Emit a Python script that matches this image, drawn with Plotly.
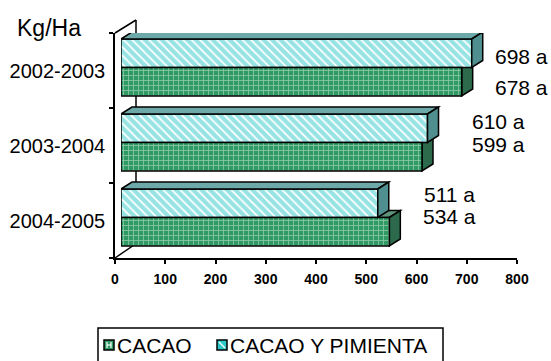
import plotly.graph_objects as go

# ---- data -------------------------------------------------------------
PERIODS = ["2002-2003", "2003-2004", "2004-2005"]
CACAO = [678, 599, 534]
CACAO_PIMIENTA = [698, 610, 511]
CACAO_LABELS = ["678 a", "599 a", "534 a"]
CACAO_PIMIENTA_LABELS = ["698 a", "610 a", "511 a"]
SERIES_NAMES = ["CACAO", "CACAO Y PIMIENTA"]
X_TICKS = [0, 100, 200, 300, 400, 500, 600, 700, 800]
UNIT_LABEL = "Kg/Ha"

# ---- layout constants (pixels) ----------------------------------------
W, H = 551, 361
ML, MR, MT, MB = 100, 10, 20, 103
PW, PH = W - ML - MR, H - MT - MB

AXIS_X0, AXIS_X1 = 115, 517          # visible value axis
BAR_X0 = 121                         # bar fronts sit a little forward
BAR_X1 = BAR_X0 + (AXIS_X1 - AXIS_X0)
Y_TOP, Y_BOT = 33, 258               # front plane of the category axis
X_MAX = 800
DEPTH_PX = (11, 7)                   # bar depth: right / up
WALL_PX = (21, 13)                   # side wall depth

FONT = "Liberation Sans, Arial, sans-serif"
GREEN, GREEN_TOP, GREEN_SIDE = "#2f9a63", "#5f947c", "#2c6a4b"
CYAN, CYAN_TOP, CYAN_SIDE = "#2fc8c8", "#6ea9a9", "#4f8f8f"


def pxx(p):
    return (p - ML) / PW


def pxy(p):
    return (H - MB - p) / PH


n = len(PERIODS)
ypos = list(range(n))
band_px = (Y_BOT - Y_TOP) / n
DX = DEPTH_PX[0] * X_MAX / (BAR_X1 - BAR_X0)
DY = -DEPTH_PX[1] / band_px
BAR_W = 0.38
LIFT = 0.04

fig = go.Figure()

series = [
    # name, values, offset, colour set, pattern
    (SERIES_NAMES[1], CACAO_PIMIENTA, -LIFT - BAR_W,
     (CYAN, CYAN_TOP, CYAN_SIDE),
     dict(shape="\\", fgcolor=CYAN, bgcolor="white", size=6, solidity=0.7)),
    (SERIES_NAMES[0], CACAO, -LIFT,
     (GREEN, GREEN_TOP, GREEN_SIDE),
     dict(shape="+", fgcolor="#e8f4ec", bgcolor=GREEN, size=5, solidity=0.3)),
]

shapes = []

# side wall of the 3D frame
wx, wy = WALL_PX
for (x0, y0, x1, y1) in [
    (AXIS_X0, Y_TOP, AXIS_X0 + wx, Y_TOP - wy),
    (AXIS_X0 + wx, Y_TOP - wy, AXIS_X0 + wx, Y_BOT - wy),
    (AXIS_X0, Y_BOT, AXIS_X0 + wx - 2, Y_BOT - wy),
]:
    shapes.append(dict(type="line", xref="paper", yref="paper",
                       x0=pxx(x0), y0=pxy(y0), x1=pxx(x1), y1=pxy(y1),
                       line=dict(color="black", width=1.5), layer="below"))

face_shapes_below, face_shapes_above = [], []
for si, (name, vals, off, cols, pat) in enumerate(series):
    fig.add_trace(go.Bar(
        y=ypos, x=vals, orientation="h", name=name,
        offset=off, width=BAR_W, xaxis="x", yaxis="y",
        marker=dict(color=cols[0], pattern=pat,
                    line=dict(color="black", width=1.5)),
        showlegend=False, hoverinfo="x",
    ))
    for k, v in zip(ypos, vals):
        yt, yb = k + off, k + off + BAR_W
        top = (f"M 0,{yt} L {v},{yt} L {v + DX},{yt + DY} "
               f"L {DX},{yt + DY} Z")
        side = (f"M {v},{yt} L {v + DX},{yt + DY} L {v + DX},{yb + DY} "
                f"L {v},{yb} Z")
        layer = "above" if si == 0 else "below"
        target = face_shapes_above if si == 0 else face_shapes_below
        for path, col in [(top, cols[1]), (side, cols[2])]:
            target.append(dict(type="path", xref="x", yref="y", path=path,
                               fillcolor=col, layer=layer,
                               line=dict(color="black", width=1.5)))

shapes += face_shapes_below + face_shapes_above

# value labels
label_shift = {  # (xshift, yshift) in px
    ("CACAO Y PIMIENTA", 0): (21, -3), ("CACAO", 0): (31, -6),
    ("CACAO Y PIMIENTA", 1): (42, 7), ("CACAO", 1): (48, 12),
    ("CACAO Y PIMIENTA", 2): (44, 9), ("CACAO", 2): (32, 15),
}
annotations = []
for name, vals, labels, off in [
    (SERIES_NAMES[1], CACAO_PIMIENTA, CACAO_PIMIENTA_LABELS, -LIFT - BAR_W),
    (SERIES_NAMES[0], CACAO, CACAO_LABELS, -LIFT),
]:
    for k, (v, t) in enumerate(zip(vals, labels)):
        xs, ys = label_shift[(name, k)]
        annotations.append(dict(
            x=v, y=k + off + BAR_W / 2, xref="x", yref="y", text=t,
            showarrow=False, xanchor="left", yanchor="middle",
            xshift=xs, yshift=ys, font=dict(family=FONT, size=21, color="black")))

annotations.append(dict(
    x=pxx(15), y=pxy(28), xref="paper", yref="paper", text=UNIT_LABEL,
    showarrow=False, xanchor="left", yanchor="middle",
    font=dict(family=FONT, size=23, color="black")))

# legend box drawn by hand
LEG_X0, LEG_X1, LEG_Y0, LEG_Y1 = 98, 443, 328, 364
shapes.append(dict(type="rect", xref="paper", yref="paper",
                   x0=pxx(LEG_X0), x1=pxx(LEG_X1), y0=pxy(LEG_Y0), y1=pxy(LEG_Y1),
                   line=dict(color="black", width=1.5), fillcolor="white",
                   layer="above"))
leg_items = [
    (SERIES_NAMES[0], 104, GREEN, "grid"),
    (SERIES_NAMES[1], 217, CYAN, "diag"),
]
sq = 10
leg_cy = 345
for name, lx, col, kind in leg_items:
    x0, x1 = lx, lx + sq
    y0, y1 = leg_cy - sq / 2, leg_cy + sq / 2
    shapes.append(dict(type="rect", xref="paper", yref="paper",
                       x0=pxx(x0), x1=pxx(x1), y0=pxy(y0), y1=pxy(y1),
                       fillcolor=col, line=dict(color="black", width=1.5),
                       layer="above"))
    if kind == "grid":
        segs = [(x0 + 3, y0 + 2, x0 + 3, y1 - 2), (x1 - 3, y0 + 2, x1 - 3, y1 - 2),
                (x0 + 3, leg_cy, x1 - 3, leg_cy)]
    else:
        segs = [(x0 + 2, y0 + 2, x1 - 2, y1 - 2)]
    for (a, b, c, d) in segs:
        shapes.append(dict(type="line", xref="paper", yref="paper",
                           x0=pxx(a), y0=pxy(b), x1=pxx(c), y1=pxy(d),
                           line=dict(color="white", width=1.2), layer="above"))
    annotations.append(dict(
        x=pxx(x1 + 1), y=pxy(leg_cy), xref="paper", yref="paper", text=name,
        showarrow=False, xanchor="left", yanchor="middle",
        font=dict(family=FONT, size=21, color="black")))

fig.update_layout(
    width=W, height=H, autosize=False,
    margin=dict(l=ML, r=MR, t=MT, b=MB, pad=0, autoexpand=False),
    paper_bgcolor="white", plot_bgcolor="rgba(0,0,0,0)",
    showlegend=False, barmode="overlay",
    font=dict(family=FONT, color="black"),
    xaxis=dict(domain=[pxx(BAR_X0), pxx(BAR_X1)], range=[0, X_MAX],
               visible=False, anchor="y", fixedrange=True, automargin=False),
    xaxis2=dict(domain=[pxx(AXIS_X0), pxx(AXIS_X1)], range=[0, X_MAX],
                anchor="y", tickmode="array", tickvals=X_TICKS,
                ticks="outside", ticklen=4, tickwidth=1.5, tickcolor="black",
                showline=True, linecolor="black", linewidth=1.5,
                showgrid=False, zeroline=False, automargin=False,
                ticklabelstandoff=3,
                tickfont=dict(family="Liberation Sans, Arial", size=14,
                              weight="bold", color="black")),
    yaxis=dict(domain=[0, pxy(Y_TOP)], range=[n - 0.5, -0.5],
               anchor="x2", tickmode="array", tickvals=ypos, ticktext=PERIODS,
               ticks="", showline=True, linecolor="black", linewidth=1.5,
               showgrid=False, zeroline=False, ticklabelstandoff=4,
               automargin=False,
               minor=dict(tickmode="array",
                          tickvals=[k - 0.5 for k in ypos] + [n - 0.5],
                          ticks="outside", ticklen=4, tickwidth=1.5,
                          tickcolor="black", showgrid=False),
               tickfont=dict(family=FONT, size=20)),
    shapes=shapes,
    annotations=annotations,
)
# dummy trace so the second x axis is drawn
fig.add_trace(go.Scatter(x=[None], y=[None], xaxis="x2", yaxis="y",
                         showlegend=False, hoverinfo="skip"))

fig.write_html("out.html")
